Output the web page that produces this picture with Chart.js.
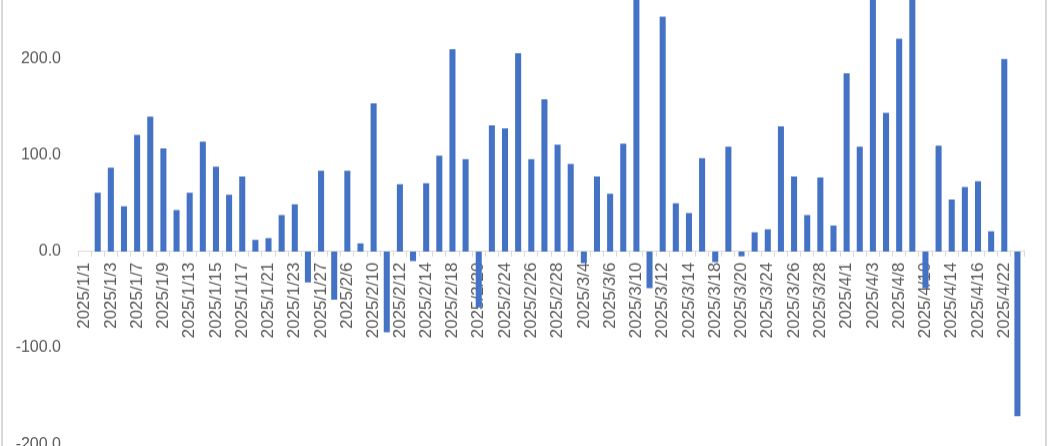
<!DOCTYPE html>
<html>
<head>
<meta charset="utf-8">
<script src="https://cdn.jsdelivr.net/npm/chart.js@4/dist/chart.umd.min.js"></script>
<style>
  html, body { margin: 0; padding: 0; background: #fff; overflow: hidden; }
  body { width: 1048px; height: 446px; position: relative; }
  #frame { position: absolute; left: 1px; top: 0; width: 1042px; height: 446px;
           border-left: 2px solid #d9d9d9; border-right: 2px solid #d9d9d9; }
  #wrap { position: absolute; left: 0; top: -64.2px; width: 1048px; height: 533.7px; }
</style>
</head>
<body>
<div id="frame"></div>
<div id="wrap"><canvas id="chart"></canvas></div>
<script>
// trading days shown on the category axis (every other one is labelled)
const dates = [
  "2025/1/1", "2025/1/2", "2025/1/3", "2025/1/6", "2025/1/7", "2025/1/8",
  "2025/1/9", "2025/1/10", "2025/1/13", "2025/1/14", "2025/1/15", "2025/1/16",
  "2025/1/17", "2025/1/20", "2025/1/21", "2025/1/22", "2025/1/23", "2025/1/24",
  "2025/1/27", "2025/2/5", "2025/2/6", "2025/2/7", "2025/2/10", "2025/2/11",
  "2025/2/12", "2025/2/13", "2025/2/14", "2025/2/17", "2025/2/18", "2025/2/19",
  "2025/2/20", "2025/2/21", "2025/2/24", "2025/2/25", "2025/2/26", "2025/2/27",
  "2025/2/28", "2025/3/3", "2025/3/4", "2025/3/5", "2025/3/6", "2025/3/7",
  "2025/3/10", "2025/3/11", "2025/3/12", "2025/3/13", "2025/3/14", "2025/3/17",
  "2025/3/18", "2025/3/19", "2025/3/20", "2025/3/21", "2025/3/24", "2025/3/25",
  "2025/3/26", "2025/3/27", "2025/3/28", "2025/3/31", "2025/4/1", "2025/4/2",
  "2025/4/3", "2025/4/7", "2025/4/8", "2025/4/9", "2025/4/10", "2025/4/11",
  "2025/4/14", "2025/4/15", "2025/4/16", "2025/4/18", "2025/4/22", "2025/4/23"
];

const values = [
  null, 61, 87, 47, 121, 140,
  107, 43, 61, 114, 88, 59,
  78, 12, 14, 38, 49, -32,
  84, -50, 84, 8.5, 154, -84,
  70, -10, 71, 99.5, 210, 96,
  -58, 131, 128, 206, 96, 158,
  111, 91, -12, 78, 60, 112,
  285, -38, 244, 50, 40, 97,
  -11, 109, -5, 20, 23, 130,
  78, 38, 77, 27, 185, 109,
  280, 144, 221, 280, -38, 110,
  54, 67, 73, 21, 200, -171
];

const yMin = -200;
const yMax = 300;
const yStep = 100;

const barColor = "#4472C4";
const textColor = "#595959";
const axisColor = "#d9d9d9";

new Chart(document.getElementById("chart"), {
  type: "bar",
  data: {
    labels: dates,
    datasets: [
      {
        data: values,
        backgroundColor: barColor,
        borderWidth: 0,
        barPercentage: 0.46,
        categoryPercentage: 1,
      },
    ],
  },
  options: {
    responsive: true,
    maintainAspectRatio: false,
    animation: false,
    // y tick padding (17) + half label height already pads top/bottom
    layout: { padding: { left: 0, right: 24, top: 0, bottom: 0 } },
    plugins: { legend: { display: false }, tooltip: { enabled: false } },
    scales: {
      x: {
        position: { y: 0 },
        offset: true,
        grid: {
          display: true,
          drawOnChartArea: false,
          drawTicks: true,
          tickLength: 5,
          color: axisColor,
          offset: true,
        },
        border: { display: true, color: axisColor, width: 1 },
        ticks: {
          autoSkip: false,
          minRotation: 90,
          maxRotation: 90,
          padding: 6,
          color: textColor,
          font: { family: "'Liberation Sans', Arial, sans-serif", size: 17 },
          callback: function (v, i) {
            return i % 2 === 0 ? this.getLabelForValue(v) : "";
          },
        },
      },
      y: {
        min: yMin,
        max: yMax,
        grid: { display: false, drawTicks: false },
        border: { display: false },
        afterFit: (scale) => {
          scale.width = 78;
        },
        ticks: {
          stepSize: yStep,
          padding: 17,
          color: textColor,
          font: { family: "'Liberation Sans', Arial, sans-serif", size: 16 },
          callback: (v) => v.toFixed(1),
        },
      },
    },
  },
});
</script>
</body>
</html>
